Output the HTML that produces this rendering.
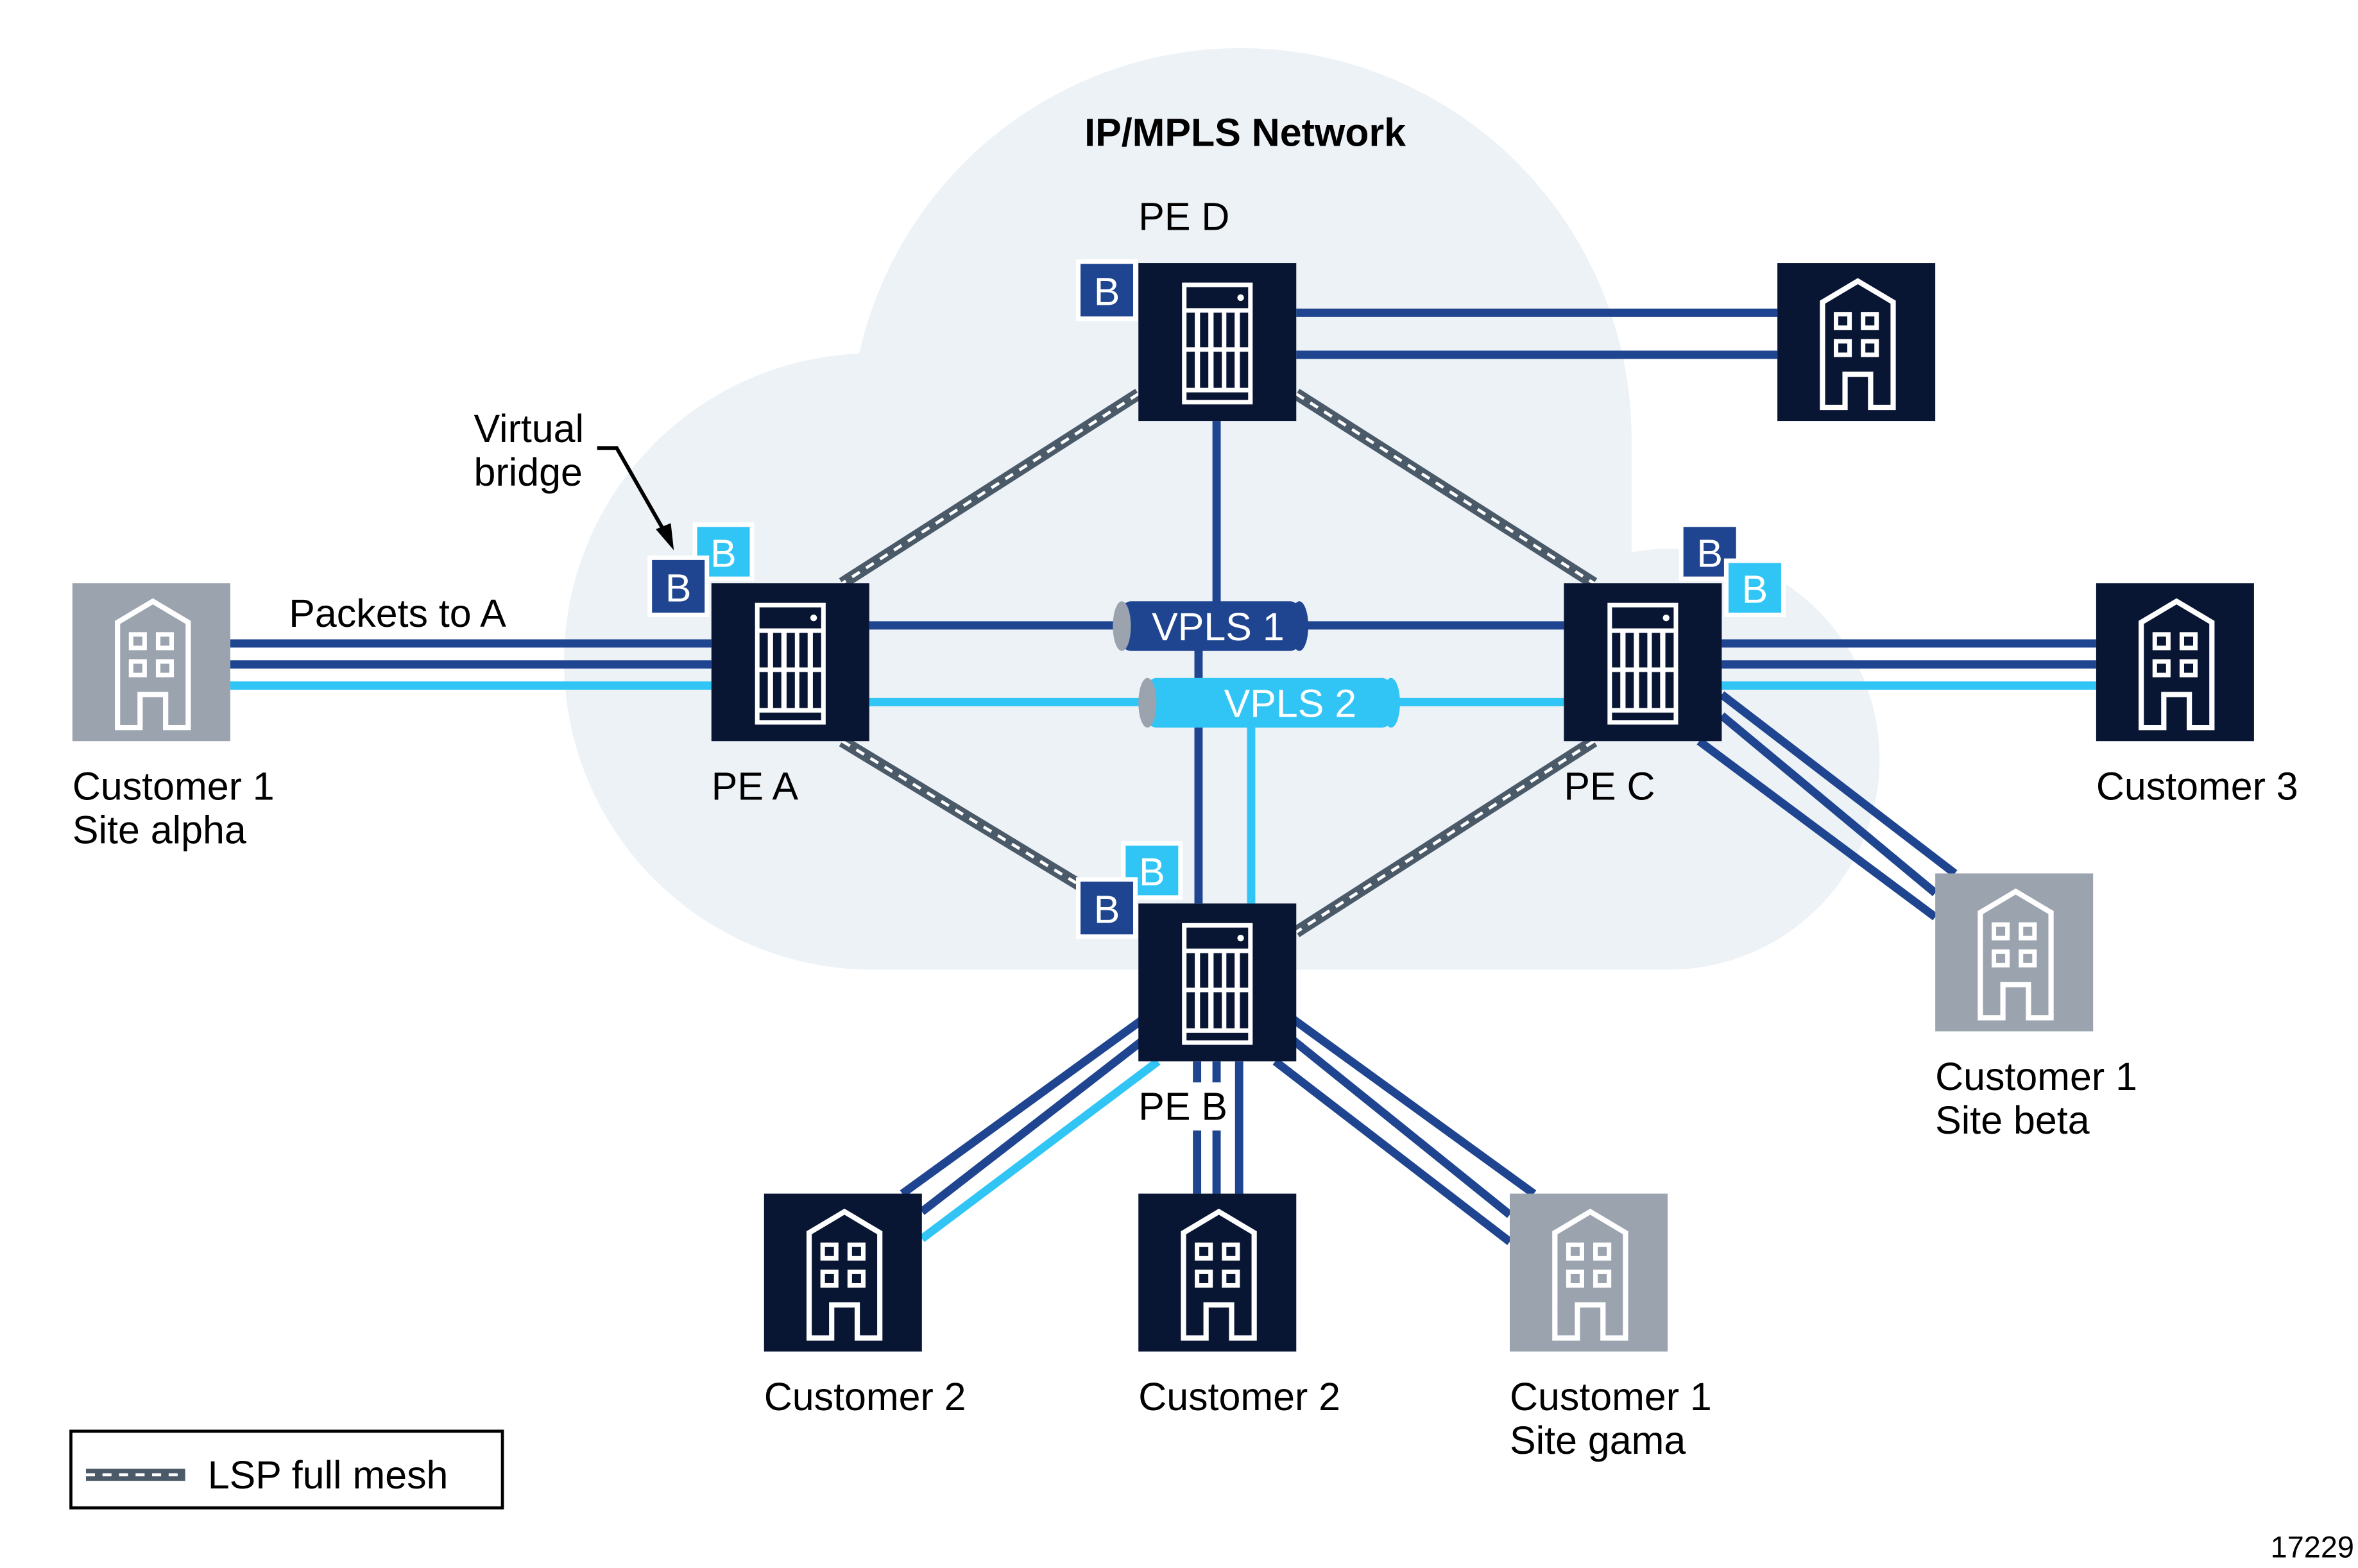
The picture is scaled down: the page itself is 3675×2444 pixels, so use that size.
<!DOCTYPE html>
<html><head><meta charset="utf-8"><style>
html,body{margin:0;padding:0;background:#fff}
svg{display:block}
text{font-family:"Liberation Sans",sans-serif}
</style></head><body>
<svg width="3675" height="2444" viewBox="0 0 1568 1043" xmlns="http://www.w3.org/2000/svg">
<defs>
<clipPath id="cc"><rect x="0" y="0" width="1568" height="645"/></clipPath>
<g id="rt">
<rect x="0" y="0" width="105" height="105" fill="#081634"/>
<rect x="29" y="13" width="47" height="81" fill="#fff"/>
<rect x="32" y="16" width="41" height="14" fill="#081634"/>
<circle cx="68" cy="23" r="2.2" fill="#fff"/>
<g fill="#081634">
<rect x="32" y="33" width="5.5" height="23"/><rect x="41" y="33" width="5.5" height="23"/><rect x="50" y="33" width="5.5" height="23"/><rect x="58.5" y="33" width="5.5" height="23"/><rect x="67.5" y="33" width="5.5" height="23"/>
<rect x="32" y="59" width="5.5" height="24"/><rect x="41" y="59" width="5.5" height="24"/><rect x="50" y="59" width="5.5" height="24"/><rect x="58.5" y="59" width="5.5" height="24"/><rect x="67.5" y="59" width="5.5" height="24"/>
<rect x="32" y="86" width="41" height="5"/>
</g>
</g>
<g id="bd">
<path d="M30,96 V26 L53.5,12 L77,26 V96 H62 V74 H45 V96 Z" fill="none" stroke="#fff" stroke-width="3.5" stroke-linejoin="miter"/>
<g fill="none" stroke="#fff" stroke-width="3"><rect x="39" y="34" width="9" height="9"/><rect x="57" y="34" width="9" height="9"/><rect x="39" y="52" width="9" height="9"/><rect x="57" y="52" width="9" height="9"/></g>
</g>
</defs>

<!-- cloud -->
<g clip-path="url(#cc)" fill="#edf2f7">
<circle cx="825" cy="292" r="260"/>
<circle cx="580" cy="440" r="205"/>
<circle cx="1110" cy="505" r="140"/>
<rect x="580" y="380" width="530" height="265"/>
<rect x="1000" y="290" width="85" height="140"/>
</g>

<!-- LSP mesh -->
<g stroke-linecap="butt">
<g stroke="#4b5a68" stroke-width="8">
<line x1="757" y1="262" x2="560" y2="388"/>
<line x1="862" y1="262" x2="1060" y2="388"/>
<line x1="560" y1="493" x2="720" y2="590"/>
<line x1="1060" y1="493" x2="862" y2="620"/>
</g>
<g stroke="#fff" stroke-width="2" stroke-dasharray="6,5">
<line x1="757" y1="262" x2="560" y2="388"/>
<line x1="862" y1="262" x2="1060" y2="388"/>
<line x1="560" y1="493" x2="720" y2="590"/>
<line x1="1060" y1="493" x2="862" y2="620"/>
</g>
</g>

<!-- access lines -->
<g stroke-width="5.5" fill="none">
<line x1="153" y1="428" x2="473" y2="428" stroke="#1f4590"/>
<line x1="153" y1="442" x2="473" y2="442" stroke="#1f4590"/>
<line x1="153" y1="456" x2="473" y2="456" stroke="#30c5f5"/>
<line x1="1145" y1="428" x2="1394" y2="428" stroke="#1f4590"/>
<line x1="1145" y1="442" x2="1394" y2="442" stroke="#1f4590"/>
<line x1="1145" y1="456" x2="1394" y2="456" stroke="#30c5f5"/>
<line x1="862" y1="208" x2="1182" y2="208" stroke="#1f4590"/>
<line x1="862" y1="236" x2="1182" y2="236" stroke="#1f4590"/>
<line x1="578" y1="416" x2="1040" y2="416" stroke="#1f4590"/>
<line x1="578" y1="467" x2="1040" y2="467" stroke="#30c5f5"/>
<line x1="809" y1="280" x2="809" y2="405" stroke="#1f4590"/>
<line x1="797" y1="430" x2="797" y2="601" stroke="#1f4590"/>
<line x1="832" y1="480" x2="832" y2="601" stroke="#30c5f5"/>
<line x1="796" y1="706" x2="796" y2="720" stroke="#1f4590"/>
<line x1="796" y1="752" x2="796" y2="794" stroke="#1f4590"/>
<line x1="809" y1="706" x2="809" y2="720" stroke="#1f4590"/>
<line x1="809" y1="752" x2="809" y2="794" stroke="#1f4590"/>
<line x1="824" y1="706" x2="824" y2="794" stroke="#1f4590"/>
<line x1="760" y1="678" x2="600" y2="794" stroke="#1f4590"/>
<line x1="760" y1="692" x2="613" y2="806" stroke="#1f4590"/>
<line x1="770" y1="706" x2="613" y2="824" stroke="#30c5f5"/>
<line x1="860" y1="678" x2="1020" y2="794" stroke="#1f4590"/>
<line x1="860" y1="692" x2="1004" y2="808" stroke="#1f4590"/>
<line x1="848" y1="706" x2="1004" y2="826" stroke="#1f4590"/>
<line x1="1145" y1="462" x2="1300" y2="581" stroke="#1f4590"/>
<line x1="1145" y1="476" x2="1287" y2="594" stroke="#1f4590"/>
<line x1="1130" y1="493" x2="1287" y2="610" stroke="#1f4590"/>
</g>

<!-- VPLS tubes -->
<rect x="746" y="400" width="118" height="33" rx="6" fill="#1f4590"/>
<ellipse cx="746" cy="416.5" rx="6" ry="16.5" fill="#9aa3ae"/>
<ellipse cx="864" cy="416.5" rx="6" ry="16.5" fill="#1f4590"/>
<text x="810" y="426" font-size="26" fill="#fff" text-anchor="middle">VPLS 1</text>
<rect x="763" y="451" width="162" height="33" rx="6" fill="#30c5f5"/>
<ellipse cx="763" cy="467.5" rx="6" ry="16.5" fill="#9aa3ae"/>
<ellipse cx="925" cy="467.5" rx="6" ry="16.5" fill="#30c5f5"/>
<text x="858" y="477" font-size="26" fill="#fff" text-anchor="middle">VPLS 2</text>

<!-- nodes -->
<use href="#rt" x="757" y="175"/>
<use href="#rt" x="473" y="388"/>
<use href="#rt" x="1040" y="388"/>
<use href="#rt" x="757" y="601"/>

<rect x="48" y="388" width="105" height="105" fill="#9aa3ae"/><use href="#bd" x="48" y="388"/>
<rect x="1182" y="175" width="105" height="105" fill="#081634"/><use href="#bd" x="1182" y="175"/>
<rect x="1394" y="388" width="105" height="105" fill="#081634"/><use href="#bd" x="1394" y="388"/>
<rect x="1287" y="581" width="105" height="105" fill="#9aa3ae"/><use href="#bd" x="1287" y="581"/>
<rect x="508" y="794" width="105" height="105" fill="#081634"/><use href="#bd" x="508" y="794"/>
<rect x="757" y="794" width="105" height="105" fill="#081634"/><use href="#bd" x="757" y="794"/>
<rect x="1004" y="794" width="105" height="105" fill="#9aa3ae"/><use href="#bd" x="1004" y="794"/>

<!-- B boxes -->
<g font-size="26" text-anchor="middle" fill="#fff">
<rect x="462" y="349" width="38" height="36" fill="#30c5f5" stroke="#fff" stroke-width="3"/><text x="481" y="377">B</text>
<rect x="432" y="371" width="38" height="38" fill="#1f4590" stroke="#fff" stroke-width="3"/><text x="451" y="400">B</text>
<rect x="717" y="174" width="38" height="38" fill="#1f4590" stroke="#fff" stroke-width="3"/><text x="736" y="203">B</text>
<rect x="1118" y="349" width="38" height="36" fill="#1f4590" stroke="#fff" stroke-width="3"/><text x="1137" y="377">B</text>
<rect x="1148" y="373" width="38" height="36" fill="#30c5f5" stroke="#fff" stroke-width="3"/><text x="1167" y="401">B</text>
<rect x="747" y="561" width="38" height="36" fill="#30c5f5" stroke="#fff" stroke-width="3"/><text x="766" y="589">B</text>
<rect x="717" y="585" width="38" height="38" fill="#1f4590" stroke="#fff" stroke-width="3"/><text x="736" y="614">B</text>
</g>

<polyline points="397,298 410,298 442,354" fill="none" stroke="#000" stroke-width="2.5"/>
<polygon points="448,366 436,352 446,348" fill="#000"/>

<g font-size="26" fill="#000">
<text x="828" y="97" font-weight="bold" text-anchor="middle">IP/MPLS Network</text>
<text x="757" y="153">PE D</text>
<text x="315" y="294">Virtual</text>
<text x="315" y="323">bridge</text>
<text x="192" y="417">Packets to A</text>
<text x="48" y="532">Customer 1</text>
<text x="48" y="561">Site alpha</text>
<text x="473" y="532">PE A</text>
<text x="1040" y="532">PE C</text>
<text x="1394" y="532">Customer 3</text>
<text x="1287" y="725">Customer 1</text>
<text x="1287" y="754">Site beta</text>
<text x="757" y="745">PE B</text>
<text x="508" y="938">Customer 2</text>
<text x="757" y="938">Customer 2</text>
<text x="1004" y="938">Customer 1</text>
<text x="1004" y="967">Site gama</text>
<text x="138" y="990">LSP full mesh</text>
<text x="1510" y="1036" font-size="20">17229</text>
</g>

<rect x="47" y="952" width="287" height="51" fill="none" stroke="#000" stroke-width="2"/>
<line x1="57" y1="981" x2="123" y2="981" stroke="#4b5a68" stroke-width="8"/>
<line x1="57" y1="981" x2="123" y2="981" stroke="#fff" stroke-width="2" stroke-dasharray="6,5"/>
</svg>
</body></html>
